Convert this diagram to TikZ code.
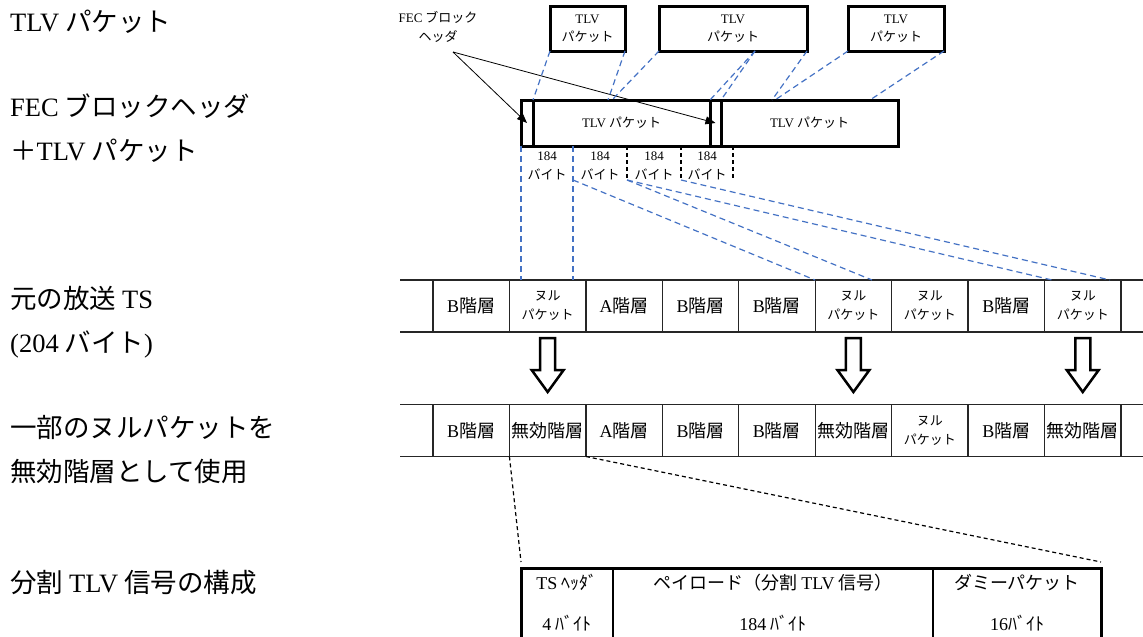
\documentclass[tikz,border=0pt]{standalone}
\usepackage{fontspec}
\setmainfont{Noto Sans CJK JP}
\newfontfamily\serifen{Liberation Serif}
\newcommand{\en}[1]{{\serifen #1}}
\usepackage{tikz}
\usetikzlibrary{arrows.meta,positioning,calc}
\definecolor{lineblue}{HTML}{4472C4}

\tikzset{
  lbl/.style={anchor=west, inner sep=0pt, align=left, font=\fontsize{26.5}{44}\selectfont},
  smalltxt/.style={font=\fontsize{13}{18.5}\selectfont, align=center},
  tlvbox/.style={draw, line width=3pt, inner sep=0pt, outer sep=0pt, minimum height=45pt, smalltxt},
  fecbox/.style={tlvbox, minimum height=46pt},
  cell/.style={draw=black!85, line width=1.3pt, inner sep=0pt, outer sep=0pt,
    minimum width=76.44pt, minimum height=52pt, align=center},
  tsline/.style={black!85, line width=1.5pt},
  tblcell/.style={inner sep=0pt, outer sep=0pt, minimum height=69pt, align=center,
    font=\fontsize{18}{41}\selectfont},
  blue dash/.style={lineblue, line width=1.2pt, dash pattern=on 6pt off 4pt},
  black dash/.style={black, line width=1.2pt, dash pattern=on 4pt off 3pt},
  hollow/.style={draw, line width=2.5pt, fill=white, line join=miter},
}

\begin{document}
\begin{tikzpicture}[x=1pt, y=-1pt, >={Triangle[length=10pt,width=8pt]}]
  \useasboundingbox (0,0) rectangle (1143,637);

  % Left-hand captions
  \node[lbl] (lblTlv) at (10,22) {\en{TLV} パケット};
  \node[lbl] (lblFec) at (10,128) {\en{FEC} ブロックヘッダ\\＋\en{TLV} パケット};
  \node[lbl] (lblTs) at (10,322.5) {元の放送 \en{TS}\\\en{(204} バイト\en{)}};
  \node[lbl] (lblUse) at (10,449.5) {一部のヌルパケットを\\無効階層として使用};
  \node[lbl] (lblSplit) at (10,583) {分割 \en{TLV} 信号の構成};

  % TLV packets
  \node[tlvbox, minimum width=75pt] (tlv1) at (587.5,28.5) {\en{TLV}\\パケット};
  \node[tlvbox, minimum width=148pt] (tlv2) at (733,28.5) {\en{TLV}\\パケット};
  \node[tlvbox, minimum width=96pt] (tlv3) at (896,28.5) {\en{TLV}\\パケット};

  % FEC block header + TLV packet
  \node[fecbox, minimum width=12pt] (hdr1) at (527,123) {};
  \node[fecbox, minimum width=177pt, right=0pt of hdr1] (fec1) {\en{TLV} パケット};
  \node[fecbox, minimum width=11pt, right=0pt of fec1] (hdr2) {};
  \node[fecbox, minimum width=177pt, right=0pt of hdr2] (fec2) {\en{TLV} パケット};

  \node[smalltxt] (fecLbl) at (438,27) {\en{FEC} ブロック\\ヘッダ};
  \coordinate (fecTip) at (453,52);
  \draw[->, line width=0.8pt] (fecTip) -- (hdr1.center);
  \draw[->, line width=0.8pt] (fecTip) -- (hdr2.center);

  % mapping of TLV packets
  \coordinate (m1) at (608,100);
  \coordinate (m2) at (612,100);
  \coordinate (m3) at (772,100);
  \coordinate (m4) at (775,100);
  \coordinate (m5) at (870,100);
  \coordinate (split) at (755,51);
  \draw[blue dash] (tlv1.south west) -- (hdr1.north east);
  \draw[blue dash] (tlv1.south east) -- (m1);
  \draw[blue dash] (tlv2.south west) -- (m2);
  \draw[blue dash] (split) -- (hdr2.north west);
  \draw[blue dash] (split) -- (hdr2.north east);
  \draw[blue dash] (tlv2.south east) -- (m3);
  \draw[blue dash] (tlv3.south west) -- (m4);
  \draw[blue dash] (tlv3.south east) -- (m5);

  % original broadcast TS
  \foreach \i/\fs/\txt in {1/18/{\en{B}階層}, 2/13/{ヌル\\パケット}, 3/18/{\en{A}階層},
      4/18/{\en{B}階層}, 5/18/{\en{B}階層}, 6/13/{ヌル\\パケット},
      7/13/{ヌル\\パケット}, 8/18/{\en{B}階層}, 9/13/{ヌル\\パケット}}
    \node[cell, font=\fontsize{\fs}{19}\selectfont] (ts\i) at (433+76.44*\i-38.22,306) {\txt};
  \draw[tsline] ($(ts1.north west)+(-33,0)$) -- ($(ts9.north east)+(22,0)$);
  \draw[tsline] ($(ts1.south west)+(-33,0)$) -- ($(ts9.south east)+(22,0)$);

  % null packets used as invalid layer
  \foreach \i/\fs/\txt in {1/18/{\en{B}階層}, 2/18/{無効階層}, 3/18/{\en{A}階層},
      4/18/{\en{B}階層}, 5/18/{\en{B}階層}, 6/18/{無効階層},
      7/13/{ヌル\\パケット}, 8/18/{\en{B}階層}, 9/18/{無効階層}}
    \node[cell, font=\fontsize{\fs}{19}\selectfont] (iv\i) at (433+76.44*\i-38.22,430.5) {\txt};
  \draw[tsline] ($(iv1.north west)+(-33,0)$) -- ($(iv9.north east)+(22,0)$);
  \draw[tsline] ($(iv1.south west)+(-33,0)$) -- ($(iv9.south east)+(22,0)$);

  \foreach \c in {ts2,ts6,ts9}
    \draw[hollow] ($(\c.south)+(-7.5,6)$) -- ++(0,32) -- ++(-8.5,0) -- ++(16,22)
      -- ++(16,-22) -- ++(-8.5,0) -- ++(0,-32) -- cycle;

  % 184-byte segments
  \foreach \n/\x in {0/521,1/573,2/627,3/681,4/733} {
    \coordinate (t\n) at (\x,146);
    \coordinate (b\n) at (\x,180);
  }
  \foreach \n/\x in {1/547,2/600,3/654,4/707}
    \node[smalltxt] (seg\n) at (\x,166) {\en{184}\\バイト};
  \foreach \n in {2,3,4}
    \draw[black dash] (t\n) -- (b\n);
  \foreach \n in {0,1}
    \draw[blue dash] (t\n) -- (t\n |- ts2.north);

  \coordinate (q1) at (815,280);
  \coordinate (q2) at (872,280);
  \coordinate (q3) at (1052,280);
  \coordinate (q4) at (1110,280);
  \draw[blue dash] (b1) -- (q1);
  \draw[blue dash] (b2) -- (q2);
  \draw[blue dash] (b2) -- (q3);
  \draw[blue dash] (b3) -- (q4);

  % split TLV signal
  \node[tblcell, minimum width=92pt, anchor=north west] (tsHdr) at (521,568) {\en{TS} ﾍｯﾀﾞ\\\en{4} ﾊﾞｲﾄ};
  \node[tblcell, minimum width=320pt, right=0pt of tsHdr] (payload) {ペイロード（分割 \en{TLV} 信号）\\\en{184} ﾊﾞｲﾄ};
  \node[tblcell, minimum width=168pt, right=0pt of payload] (dummy) {ダミーパケット\\\en{16}ﾊﾞｲﾄ};
  \draw[line width=3pt] (tsHdr.south west) -- (tsHdr.north west) -- (dummy.north east) -- (dummy.south east);
  \draw[line width=1.5pt] (tsHdr.north east) -- (tsHdr.south east)
    (payload.north east) -- (payload.south east);

  \draw[black dash] (iv2.south west) -- ($(tsHdr.north west)+(0,-6)$);
  \draw[black dash] (iv2.south east) -- ($(dummy.north east)+(0,-6)$);
\end{tikzpicture}
\end{document}
